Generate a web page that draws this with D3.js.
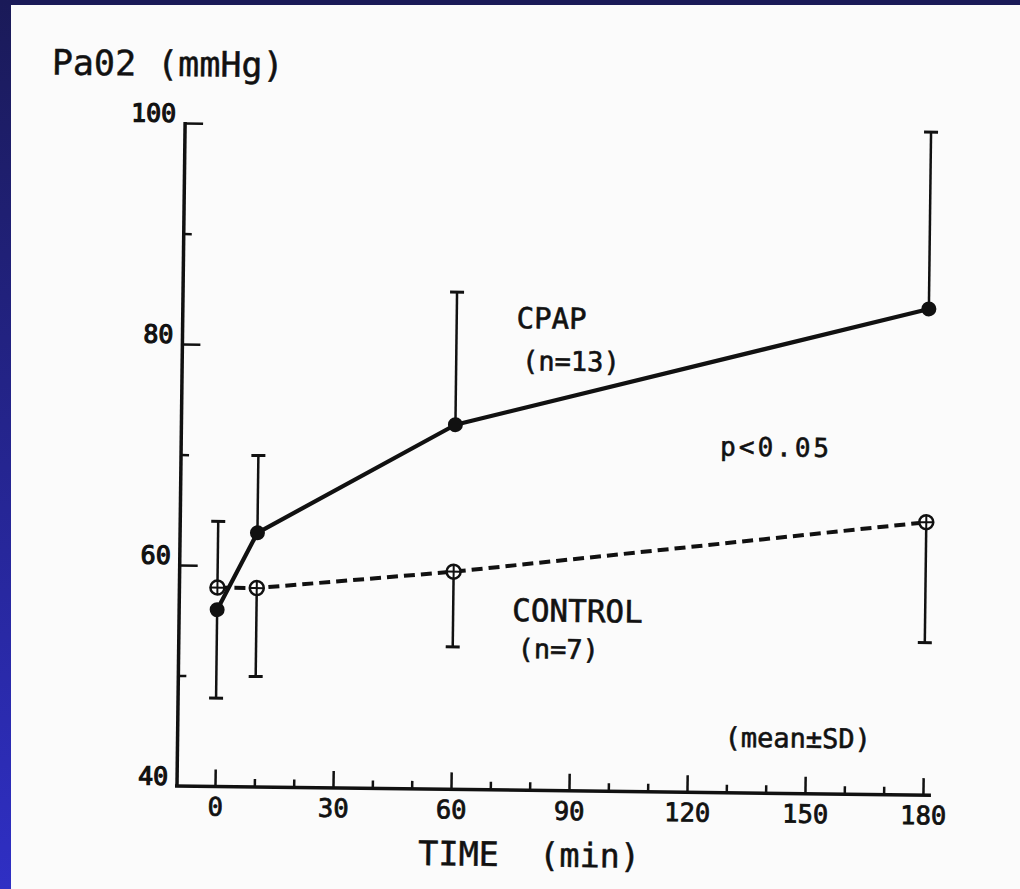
<!DOCTYPE html>
<html>
<head>
<meta charset="utf-8">
<script src="https://cdn.jsdelivr.net/npm/d3@7"></script>
<style>
  html, body { margin: 0; padding: 0; background: #fff; }
  svg { display: block; }
  text { font-family: "DejaVu Sans Mono", "Liberation Mono", monospace; fill: #111; white-space: pre; }
</style>
</head>
<body>
<svg id="chart" width="1020" height="889"></svg>
<script>
// Time points (min) and PaO2 readings (mmHg), mean and SD per group
const minutes = [0, 10, 60, 180];
const cpapMean = [56, 63, 73, 84];
const cpapSD = [8, 7, 12, 16];
const cpapBarSide = [-1, 1, 1, 1];        // +1: whisker drawn upward, -1: downward
const controlMean = [58, 58, 59.7, 64.7];
const controlSD = [6, 8, 6.8, 10.9];
const controlBarSide = [1, -1, -1, -1];

// Axis ticks and labels
const xMajorTicks = [0, 30, 60, 90, 120, 150, 180];
const xMinorTicks = [10, 20, 40, 50, 70, 80, 100, 110, 130, 140, 160, 170];
const yMajorTicks = [100, 80, 60];
const yMinorTicks = [90, 70, 50];
const yTickLabels = [100, 80, 60, 40];

const svg = d3.select("#chart");

// page background and the dark frame along the top and left edges
const defs = svg.append("defs");
const grad = defs.append("linearGradient").attr("id", "edge")
  .attr("x1", 0).attr("y1", 0).attr("x2", 0).attr("y2", 1);
grad.append("stop").attr("offset", "0%").attr("stop-color", "#1a1a58");
grad.append("stop").attr("offset", "100%").attr("stop-color", "#2f2fc4");

svg.append("rect").attr("width", 1020).attr("height", 889).attr("fill", "#fbfbfb");
svg.append("rect").attr("x", 0).attr("y", 0).attr("width", 1020).attr("height", 5).attr("fill", "#1a1a58");
svg.append("rect").attr("x", 0).attr("y", 0).attr("width", 11).attr("height", 889).attr("fill", "url(#edge)");

// the printed figure sits slightly askew on the page
const g = svg.append("g").attr("transform", "rotate(0.7, 176, 786)");

const x = d3.scaleLinear().domain([0, 180]).range([215, 923]);
const y = d3.scaleLinear().domain([40, 100]).range([786, 123]);

const ink = "#111";

// axis frame
g.append("line").attr("x1", 177).attr("x2", 177).attr("y1", 122).attr("y2", 787)
  .attr("stroke", ink).attr("stroke-width", 3.5);
g.append("line").attr("x1", 175).attr("x2", 931).attr("y1", 786).attr("y2", 786)
  .attr("stroke", ink).attr("stroke-width", 3.5);

// x axis: long ticks every 30 min with labels, short ticks every 10 min
const xMajor = g.append("g").attr("transform", "translate(0,786)")
  .call(d3.axisBottom(x).tickValues(xMajorTicks).tickSize(-17).tickPadding(11)
    .tickFormat(d3.format("d")));
const xMinor = g.append("g").attr("transform", "translate(0,786)")
  .call(d3.axisBottom(x).tickValues(xMinorTicks).tickSize(-8).tickFormat(""));
[xMajor, xMinor].forEach(a => {
  a.select(".domain").remove();
  a.selectAll(".tick line").attr("stroke", ink).attr("stroke-width", 2.5);
});
xMajor.selectAll(".tick text").attr("font-size", 25.5).attr("fill", ink)
  .attr("font-family", null).attr("stroke", ink).attr("stroke-width", 0.8);

// y axis: long ticks every 20 mmHg, short ticks in between
const yMajor = g.append("g").attr("transform", "translate(177,0)")
  .call(d3.axisLeft(y).tickValues(yMajorTicks).tickSize(-18).tickFormat(""));
const yMinor = g.append("g").attr("transform", "translate(177,0)")
  .call(d3.axisLeft(y).tickValues(yMinorTicks).tickSize(-8).tickFormat(""));
[yMajor, yMinor].forEach(a => {
  a.select(".domain").remove();
  a.selectAll(".tick line").attr("stroke", ink).attr("stroke-width", 2.5);
});
const yLab = g.append("g").attr("transform", "translate(177,0)")
  .call(d3.axisLeft(y).tickValues(yTickLabels).tickSize(0).tickPadding(9)
    .tickFormat(d3.format("d")));
yLab.select(".domain").remove();
yLab.selectAll(".tick text").attr("font-size", 25).attr("fill", ink)
  .attr("font-family", null).attr("dy", "-0.06em")
  .attr("stroke", ink).attr("stroke-width", 1.2);

// axis titles
const title = g.append("g").attr("stroke", ink).attr("stroke-width", 0.5);
title.append("text").attr("x", 43).attr("y", 76).attr("font-size", 35).text("Pa02 (mmHg)");
title.append("text").attr("x", 419).attr("y", 862).attr("font-size", 33.5).text("TIME  (min)");

// group data as point records
const cpap = minutes.map((t, i) => ({ t, m: cpapMean[i], sd: cpapSD[i], side: cpapBarSide[i] }));
const control = minutes.map((t, i) => ({ t, m: controlMean[i], sd: controlSD[i], side: controlBarSide[i] }));

const line = d3.line().x(d => x(d.t)).y(d => y(d.m));

// connecting lines
g.append("path").datum(control).attr("d", line).attr("fill", "none")
  .attr("stroke", ink).attr("stroke-width", 4).attr("stroke-dasharray", "11,6");
g.append("path").datum(cpap).attr("d", line).attr("fill", "none")
  .attr("stroke", ink).attr("stroke-width", 4.2).attr("stroke-linejoin", "round");

// one-sided SD whiskers
function whiskers(data) {
  const w = g.append("g").attr("stroke", ink);
  w.selectAll("line.v").data(data).join("line")
    .attr("x1", d => x(d.t)).attr("x2", d => x(d.t))
    .attr("y1", d => y(d.m)).attr("y2", d => y(d.m + d.side * d.sd))
    .attr("stroke-width", 2.5);
  w.selectAll("line.c").data(data).join("line")
    .attr("x1", d => x(d.t) - 7).attr("x2", d => x(d.t) + 7)
    .attr("y1", d => y(d.m + d.side * d.sd)).attr("y2", d => y(d.m + d.side * d.sd))
    .attr("stroke-width", 3);
}
whiskers(cpap);
whiskers(control);

// control markers: open circle with a cross
const cm = g.append("g").selectAll("g").data(control).join("g")
  .attr("transform", d => `translate(${x(d.t)},${y(d.m)})`);
cm.append("circle").attr("r", 7).attr("fill", "#fff").attr("stroke", ink).attr("stroke-width", 2.5);
cm.append("line").attr("x1", -6.5).attr("x2", 6.5).attr("stroke", ink).attr("stroke-width", 2);
cm.append("line").attr("y1", -6.5).attr("y2", 6.5).attr("stroke", ink).attr("stroke-width", 2);

// CPAP markers: filled circles
g.append("g").selectAll("circle").data(cpap).join("circle")
  .attr("cx", d => x(d.t)).attr("cy", d => y(d.m)).attr("r", 7.5).attr("fill", ink);

// in-plot annotations
const notes = g.append("g").attr("stroke", ink).attr("stroke-width", 0.6);
notes.append("text").attr("x", 511).attr("y", 324).attr("font-size", 29).text("CPAP");
notes.append("text").attr("x", 517).attr("y", 366).attr("font-size", 27).text("(n=13)");
notes.append("text").attr("x", 716).attr("y", 449).attr("font-size", 26).attr("letter-spacing", 3).text("p<0.05");
notes.append("text").attr("x", 510).attr("y", 617).attr("font-size", 31).text("CONTROL");
notes.append("text").attr("x", 516).attr("y", 654).attr("font-size", 27).text("(n=7)");
notes.append("text").attr("x", 724).attr("y", 740).attr("font-size", 27).text("(mean±SD)");
</script>
</body>
</html>
